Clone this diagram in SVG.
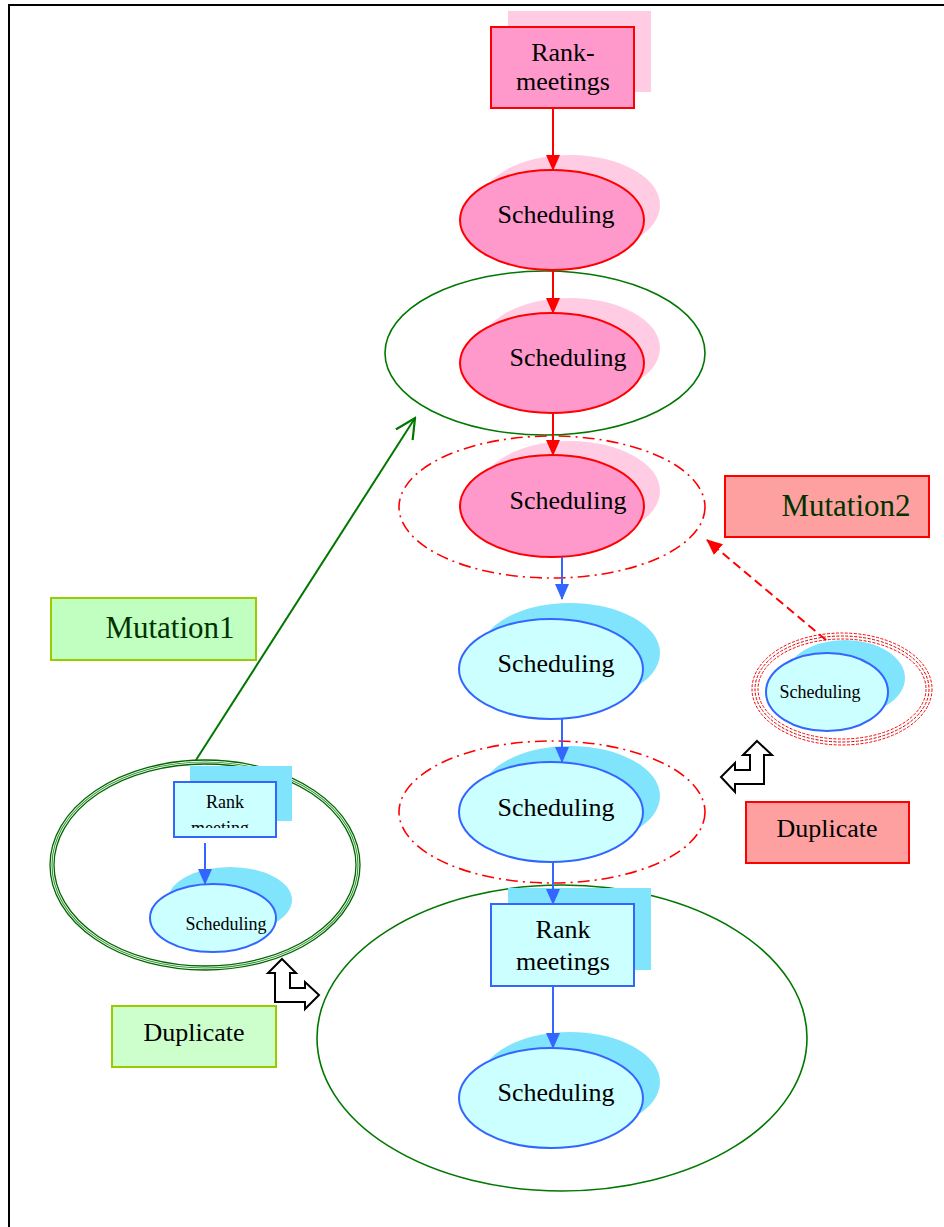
<svg xmlns="http://www.w3.org/2000/svg" width="944" height="1227" viewBox="0 0 944 1227">
  <style>
    .t26 { font-size: 26px; }
    .t18 { font-size: 18px; }
    .mut { font-size: 31px; fill: #003300; }
    .pink { fill: #ff99cc; stroke: #ff0000; stroke-width: 2; }
    .pinksh { fill: #ffcce4; stroke: none; }
    .blue { fill: #ccffff; stroke: #3366ff; stroke-width: 2; }
    .bluesh { fill: #80e4fc; stroke: none; }
    .red { stroke: #ff0000; stroke-width: 2; fill: none; }
    .bl { stroke: #3366ff; stroke-width: 2; fill: none; }
    .grn { stroke: #007700; stroke-width: 1.6; fill: none; }
    .dashdot { stroke: #ff0000; stroke-width: 1.6; fill: none; stroke-dasharray: 12 5 2 5; }
    .bent { fill: #fff; stroke: #000; stroke-width: 2; stroke-linejoin: miter; }
  </style>
  <defs>
    <marker id="ahRedBig" markerWidth="16" markerHeight="14" refX="15" refY="7" orient="auto" markerUnits="userSpaceOnUse">
      <path d="M0,0 L16,7 L0,14 z" fill="#ff0000"/>
    </marker>
    <marker id="ahBlue" markerWidth="16" markerHeight="14" refX="15" refY="7" orient="auto" markerUnits="userSpaceOnUse">
      <path d="M0,0 L16,7 L0,14 z" fill="#3366ff"/>
    </marker>
    <marker id="ahGreen" markerWidth="22" markerHeight="22" refX="20" refY="11" orient="auto" markerUnits="userSpaceOnUse">
      <path d="M0,1 L20,11 L0,21" fill="none" stroke="#007700" stroke-width="2.2"/>
    </marker>
    <clipPath id="smallBox">
      <rect x="174" y="782" width="102" height="46"/>
    </clipPath>
  </defs>

  <!-- page frame -->
  <path d="M9,1227 L9,5 L944,5" fill="none" stroke="#000" stroke-width="2"/>

  <g font-family="'Liberation Serif', 'Times New Roman', serif" text-anchor="middle" fill="#000">

  <!-- grouping outlines -->
  <g id="groups">
    <ellipse cx="545" cy="353" rx="160" ry="82" class="grn"/>
    <ellipse cx="562" cy="1038" rx="245" ry="153" class="grn"/>
  </g>

  <!-- main chain -->
  <g id="rank-meetings-top">
    <rect x="508" y="11" width="143" height="81" class="pinksh"/>
    <rect x="491" y="27" width="143" height="81" class="pink"/>
    <text class="t26" x="563" y="61">Rank-</text>
    <text class="t26" x="563" y="90">meetings</text>
  </g>

  <g id="scheduling-1">
    <ellipse cx="570" cy="205" rx="90" ry="50" class="pinksh"/>
    <ellipse cx="552" cy="220" rx="92" ry="50" class="pink"/>
    <text class="t26" x="556" y="223">Scheduling</text>
  </g>

  <g id="scheduling-2">
    <ellipse cx="570" cy="348" rx="90" ry="50" class="pinksh"/>
    <ellipse cx="552" cy="363" rx="92" ry="50" class="pink"/>
    <text class="t26" x="568" y="366">Scheduling</text>
  </g>

  <g id="scheduling-3">
    <ellipse cx="552" cy="507" rx="153" ry="71" class="dashdot"/>
    <ellipse cx="570" cy="491" rx="90" ry="50" class="pinksh"/>
    <ellipse cx="552" cy="506" rx="92" ry="51" class="pink"/>
    <text class="t26" x="568" y="509">Scheduling</text>
  </g>

  <g id="scheduling-4">
    <ellipse cx="570" cy="653" rx="90" ry="50" class="bluesh"/>
    <ellipse cx="551" cy="669" rx="92" ry="50" class="blue"/>
    <text class="t26" x="556" y="672">Scheduling</text>
  </g>

  <g id="scheduling-5">
    <ellipse cx="552" cy="812" rx="153" ry="71" class="dashdot"/>
    <ellipse cx="570" cy="796" rx="90" ry="50" class="bluesh"/>
    <ellipse cx="551" cy="812" rx="92" ry="50" class="blue"/>
    <text class="t26" x="556" y="816">Scheduling</text>
  </g>

  <g id="rank-meetings-bottom">
    <rect x="508" y="888" width="143" height="82" class="bluesh"/>
    <rect x="491" y="904" width="143" height="82" class="blue"/>
    <text class="t26" x="563" y="938">Rank</text>
    <text class="t26" x="563" y="970">meetings</text>
  </g>

  <g id="scheduling-6">
    <ellipse cx="570" cy="1082" rx="90" ry="50" class="bluesh"/>
    <ellipse cx="551" cy="1098" rx="92" ry="50" class="blue"/>
    <text class="t26" x="556" y="1101">Scheduling</text>
  </g>

  <!-- labels -->
  <g id="mutation2">
    <rect x="725" y="476" width="204" height="61" fill="#ffa0a0" stroke="#ff0000" stroke-width="2"/>
    <text class="mut" x="846" y="516">Mutation2</text>
  </g>

  <g id="mutation1">
    <rect x="51" y="598" width="205" height="62" fill="#c0ffc0" stroke="#99cc00" stroke-width="2"/>
    <text class="mut" x="170" y="638">Mutation1</text>
  </g>

  <g id="duplicate-right">
    <rect x="746" y="802" width="163" height="61" fill="#ffa0a0" stroke="#ff0000" stroke-width="2"/>
    <text class="t26" x="827" y="837">Duplicate</text>
  </g>

  <g id="duplicate-left">
    <rect x="112" y="1006" width="164" height="61" fill="#ccffcc" stroke="#99cc00" stroke-width="2"/>
    <text class="t26" x="194" y="1041">Duplicate</text>
  </g>

  <!-- copied single node on the right -->
  <g id="scheduling-copy">
    <ellipse cx="842" cy="689" rx="90" ry="56" fill="none" stroke="#ff0000" stroke-width="1" stroke-dasharray="3 1.5"/>
    <ellipse cx="842" cy="689" rx="87" ry="53" fill="none" stroke="#cc0000" stroke-width="1" stroke-dasharray="3 1.5"/>
    <ellipse cx="842" cy="689" rx="84" ry="50" fill="none" stroke="#ff0000" stroke-width="1" stroke-dasharray="3 1.5"/>
    <ellipse cx="845" cy="678" rx="60" ry="38" class="bluesh"/>
    <ellipse cx="827" cy="692" rx="61" ry="39" class="blue"/>
    <text class="t18" x="820" y="698">Scheduling</text>
  </g>

  <!-- copied pair on the left -->
  <g id="rank-scheduling-copy">
    <ellipse cx="205" cy="865" rx="155" ry="105" fill="none" stroke="#006600" stroke-width="1.3"/>
    <ellipse cx="205" cy="865" rx="153" ry="103" fill="none" stroke="#339933" stroke-width="1.1"/>
    <ellipse cx="205" cy="865" rx="151" ry="101" fill="none" stroke="#006600" stroke-width="1.3"/>
    <rect x="190" y="766" width="102" height="55" class="bluesh"/>
    <rect x="174" y="782" width="102" height="55" class="blue"/>
    <g clip-path="url(#smallBox)">
      <text class="t18" x="225" y="808">Rank</text>
      <text class="t18" x="220" y="834">meeting</text>
    </g>
    <ellipse cx="230" cy="900" rx="62" ry="33" class="bluesh"/>
    <ellipse cx="213" cy="918" rx="63" ry="34" class="blue"/>
    <text class="t18" x="226" y="930">Scheduling</text>
  </g>

  </g>

  <!-- duplicate indicators -->
  <g id="bent-arrows">
    <polygon class="bent" points="757,741 772,755 764,755 764,784 735,784 735,792 721,777 735,763 735,770 750,770 750,755 743,755"/>
    <polygon class="bent" points="282,959 296,973 290,973 290,988 305,988 305,982 319,995 305,1009 305,1002 275,1002 275,973 268,973"/>
  </g>

  <!-- connectors -->
  <g id="connectors">
    <line x1="553" y1="108" x2="553" y2="170" class="red" marker-end="url(#ahRedBig)"/>
    <line x1="553" y1="270" x2="553" y2="313" class="red" marker-end="url(#ahRedBig)"/>
    <line x1="553" y1="413" x2="553" y2="455" class="red" marker-end="url(#ahRedBig)"/>
    <line x1="562" y1="557" x2="562" y2="599" class="bl" marker-end="url(#ahBlue)"/>
    <line x1="562" y1="719" x2="562" y2="762" class="bl" marker-end="url(#ahBlue)"/>
    <line x1="553" y1="862" x2="553" y2="904" class="bl" marker-end="url(#ahBlue)"/>
    <line x1="553" y1="986" x2="553" y2="1048" class="bl" marker-end="url(#ahBlue)"/>
    <line x1="205" y1="843" x2="205" y2="884" class="bl" marker-end="url(#ahBlue)"/>
    <line x1="196" y1="760" x2="415" y2="418" stroke="#007700" stroke-width="2" marker-end="url(#ahGreen)"/>
    <line x1="826" y1="640" x2="707" y2="540" stroke="#ff0000" stroke-width="2" stroke-dasharray="9 5" marker-end="url(#ahRedBig)"/>
  </g>
</svg>
